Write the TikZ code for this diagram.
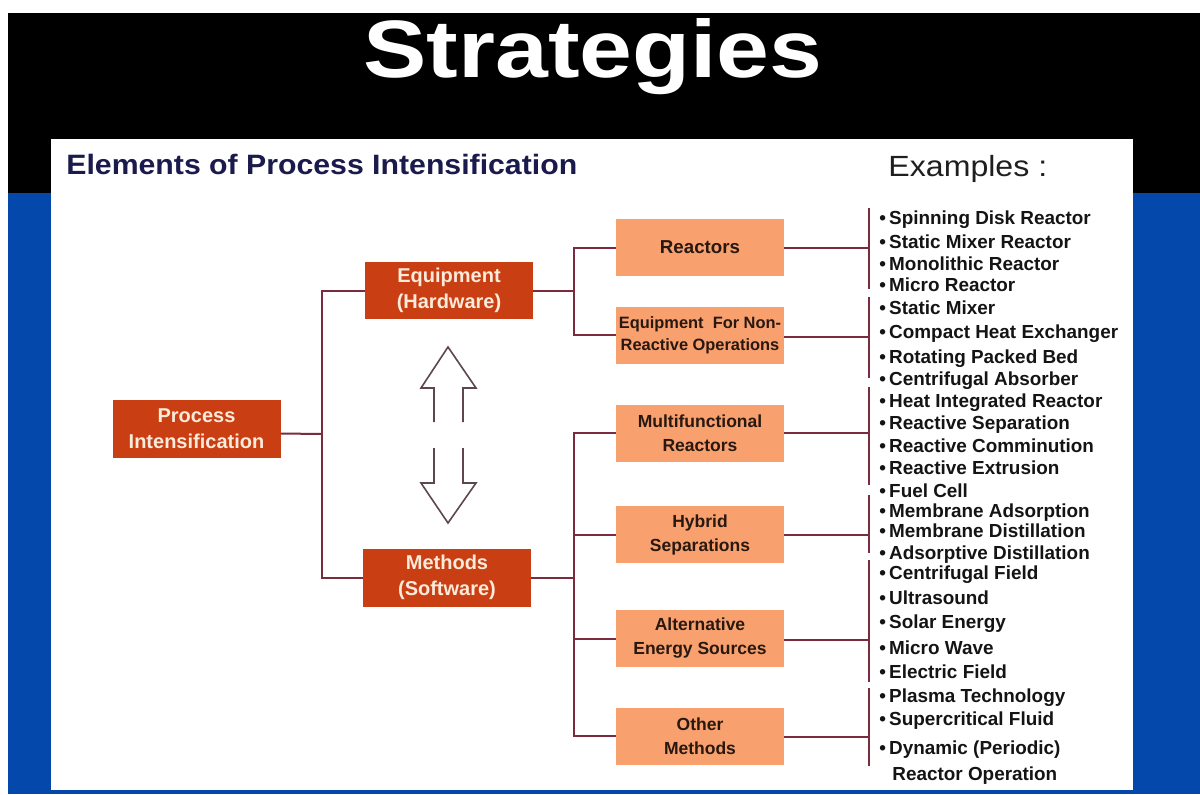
\documentclass[tikz,border=0pt]{standalone}
\usepackage{graphicx}
\usepackage{fontspec}
\setmainfont{Liberation Sans}
\definecolor{blueband}{RGB}{3,72,170}
\definecolor{darkbox}{RGB}{201,62,18}
\definecolor{lightbox}{RGB}{248,160,110}
\definecolor{darktext}{RGB}{252,234,218}
\definecolor{lighttext}{RGB}{40,24,16}
\definecolor{linec}{RGB}{122,44,62}
\definecolor{navy}{RGB}{26,26,76}
\definecolor{arrowc}{RGB}{95,70,78}
\begin{document}
\begin{tikzpicture}[x=0.5pt,y=-0.5pt,
  darkn/.style={fill=darkbox, text=darktext, font=\bfseries\fontsize{10pt}{13pt}\selectfont, align=center, minimum width=84pt, minimum height=29pt, inner sep=0pt},
  lightn/.style={fill=lightbox, text=lighttext, font=\bfseries\fontsize{8.75pt}{12pt}\selectfont, align=center, minimum width=84pt, minimum height=28.5pt, inner sep=0pt},
  connector/.style={draw=linec, line width=1pt},
  item/.style={anchor=base west, inner sep=0pt, font=\bfseries\fontsize{9.45pt}{11pt}\selectfont, text=black!92},
  hollow/.style={draw=arrowc, line width=0.8pt, line join=miter}
]
\useasboundingbox (0,0) rectangle (1200,794);
% background bands
\fill[white] (0,0) rectangle (1200,794);
\fill[black] (8,13) rectangle (1200,193);
\fill[blueband] (8,193) rectangle (1200,794);
\fill[white] (51,139) rectangle (1133,790);

% titles
\node[anchor=base west, inner sep=0pt, text=white] (title) at (363,77) {\resizebox{229.5pt}{29.5pt}{\bfseries Strategies}};
\node[anchor=base west, inner sep=0pt, text=navy] (hdr) at (66,174) {\scalebox{1.08}[1]{\bfseries\fontsize{14pt}{16pt}\selectfont Elements of Process Intensification}};
\node[anchor=base west, inner sep=0pt, text=black!88] (exh) at (888,176) {\scalebox{1.1}[1]{\fontsize{14.6pt}{17pt}\selectfont Examples :}};

% main boxes
\node[darkn] (pi) at (196.5,428.5) {Process\\Intensification};
\node[darkn, minimum height=28.5pt] (eq) at (449,290.5) {Equipment\\(Hardware)};
\node[darkn] (me) at (447,577.5) {Methods\\(Software)};

\node[lightn, font=\bfseries\fontsize{9.35pt}{12pt}\selectfont] (re) at (700,247.5) {Reactors};
\node[lightn, font=\bfseries\fontsize{8.2pt}{11pt}\selectfont] (nr) at (700,335) {Equipment\ \ For Non-\\Reactive Operations};
\node[lightn] (mf) at (700,433) {Multifunctional\\Reactors};
\node[lightn] (hy) at (700,534.5) {Hybrid\\Separations};
\node[lightn] (ae) at (700,638.5) {Alternative\\Energy Sources};
\node[lightn] (om) at (700,736) {Other\\Methods};

% junctions
\coordinate (j1) at (322,434);
\coordinate (j2) at (574,290.5);
\coordinate (j3) at (574,577.5);

\draw[connector] ([yshift=-2.5pt]pi.east) -- (j1);
\draw[connector] (eq.west) -| (j1) |- (me.west);
\draw[connector] (eq.east) -- (j2);
\draw[connector] (re.west) -| (j2) |- (nr.west);
\draw[connector] (me.east) -- (j3);
\draw[connector] (mf.west) -| (j3) |- (om.west);
\draw[connector] (hy.west) -- (hy.west -| j3);
\draw[connector] (ae.west) -- (ae.west -| j3);

% brackets
\coordinate (b1t) at (869,208); \coordinate (b1b) at (869,289);
\coordinate (b2t) at (869,297); \coordinate (b2b) at (869,378);
\coordinate (b3t) at (869,387); \coordinate (b3b) at (869,485);
\coordinate (b4t) at (869,495); \coordinate (b4b) at (869,553);
\coordinate (b5t) at (869,560); \coordinate (b5b) at (869,682);
\coordinate (b6t) at (869,688); \coordinate (b6b) at (869,766);
\draw[connector] (b1t) -- (b1b);
\draw[connector] (b2t) -- (b2b);
\draw[connector] (b3t) -- (b3b);
\draw[connector] (b4t) -- (b4b);
\draw[connector] (b5t) -- (b5b);
\draw[connector] (b6t) -- (b6b);
\draw[connector] (re.east) -- (re.east -| b1t);
\draw[connector] ([yshift=-1pt]nr.east) -- ([yshift=-1pt]nr.east -| b2t);
\draw[connector] (mf.east) -- (mf.east -| b3t);
\draw[connector] (hy.east) -- (hy.east -| b4t);
\draw[connector] ([yshift=-0.75pt]ae.east) -- ([yshift=-0.75pt]ae.east -| b5t);
\draw[connector] ([yshift=-0.5pt]om.east) -- ([yshift=-0.5pt]om.east -| b6t);

% hollow double arrow
\draw[hollow] (434,422) -- (434,388) -- (421,388) -- (448,347) -- (476,388) -- (463,388) -- (463,422);
\draw[hollow] (434,448) -- (434,483) -- (421,483) -- (448,523) -- (476,483) -- (463,483) -- (463,448);

% examples
\foreach \yy/\tt [count=\i] in {224/Spinning Disk Reactor, 248/Static Mixer Reactor, 270/Monolithic Reactor, 291/Micro Reactor, 314/Static Mixer, 338/Compact Heat Exchanger, 363/Rotating Packed Bed, 385/Centrifugal Absorber, 407/Heat Integrated Reactor, 429/Reactive Separation, 452/Reactive Comminution, 474/Reactive Extrusion, 497/Fuel Cell, 517/Membrane Adsorption, 537/Membrane Distillation, 559/Adsorptive Distillation, 579/Centrifugal Field, 604/Ultrasound, 628/Solar Energy, 654/Micro Wave, 678/Electric Field, 702/Plasma Technology, 725/Supercritical Fluid, 754/Dynamic (Periodic)}
  \node[item] (ex\i) at (879,\yy) {•\hspace{1.6pt}\tt};
\node[item] (ex25) at (892,780) {Reactor Operation};
\end{tikzpicture}
\end{document}
